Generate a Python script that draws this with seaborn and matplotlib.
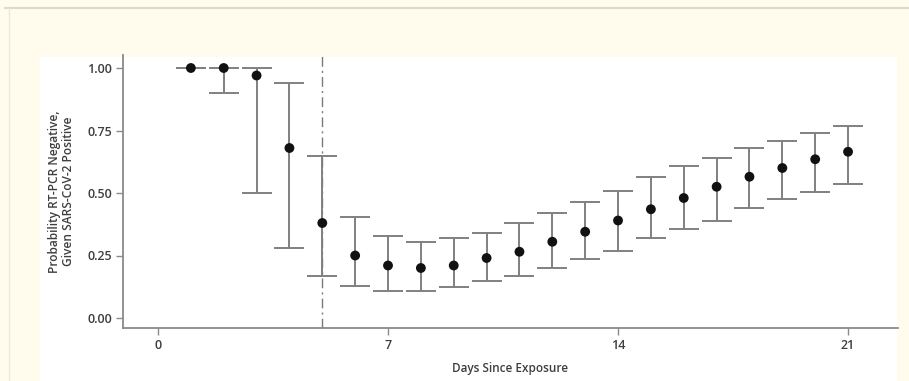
import matplotlib
matplotlib.use("Agg")
import matplotlib.pyplot as plt
import seaborn as sns
import pandas as pd
from matplotlib.patches import Rectangle
from matplotlib.lines import Line2D

days = list(range(1, 22))
prob = [1.00, 1.00, 0.97, 0.68, 0.38, 0.25, 0.21, 0.20, 0.21, 0.24, 0.265,
        0.305, 0.345, 0.39, 0.435, 0.48, 0.525, 0.565, 0.60, 0.635, 0.665]
lower = [1.00, 0.90, 0.50, 0.28, 0.17, 0.13, 0.11, 0.11, 0.125, 0.15, 0.17,
         0.20, 0.235, 0.27, 0.32, 0.355, 0.39, 0.44, 0.475, 0.505, 0.535]
upper = [1.00, 1.00, 1.00, 0.94, 0.65, 0.405, 0.33, 0.305, 0.32, 0.34, 0.38,
         0.42, 0.465, 0.51, 0.565, 0.61, 0.64, 0.68, 0.71, 0.74, 0.77]
x_ticks = [0, 7, 14, 21]
y_ticks = [0.00, 0.25, 0.50, 0.75, 1.00]
cutoff_day = 5

df = pd.DataFrame({"day": days, "prob": prob, "lower": lower, "upper": upper})

sns.set_theme(style="white")
plt.rcParams["font.family"] = ["Open Sans", "DejaVu Sans"]

cream = "#fffcee"
grey = "#8a8a8a"
text_col = "#3e3e3e"

fig = plt.figure(figsize=(9.09, 3.81), dpi=100, facecolor=cream)
W, H = 909, 381

# white panel and card border
fig.patches.append(Rectangle((40 / W, 0), (897 - 40) / W, (H - 57) / H,
                             transform=fig.transFigure, facecolor="white",
                             edgecolor="none", zorder=-5))
fig.lines.append(Line2D([5 / W, 1], [1 - 8 / H, 1 - 8 / H], transform=fig.transFigure,
                        color="#dcd9d0", lw=1.5, zorder=-4))
fig.lines.append(Line2D([9 / W, 9 / W], [0, 1 - 8 / H], transform=fig.transFigure,
                        color="#ece8dc", lw=1.0, zorder=-4))

ax = fig.add_axes([123 / W, (H - 328) / H, (898 - 123) / W, (328 - 55) / H])
ax.set_facecolor("none")

yerr = [df["prob"] - df["lower"], df["upper"] - df["prob"]]
ax.errorbar(df["day"], df["prob"], yerr=yerr, fmt="none", ecolor="#808080",
            elinewidth=1.4, capsize=10.8, capthick=1.4, zorder=2)
sns.scatterplot(data=df, x="day", y="prob", color="#111111", s=50,
                edgecolor="none", ax=ax, zorder=3)

ax.axvline(cutoff_day, color="#7a7a7a", lw=1.0, ls=(0, (7, 3, 1.5, 3)), zorder=1)

ax.set_xlim(-1.065, 22.52)
ax.set_ylim(-0.04, 1.052)
ax.set_xticks(x_ticks)
ax.set_yticks(y_ticks)
ax.set_yticklabels([f"{v:.2f}" for v in y_ticks])

for side in ["top", "right"]:
    ax.spines[side].set_visible(False)
for side in ["left", "bottom"]:
    ax.spines[side].set_color(grey)
    ax.spines[side].set_linewidth(1.3)

ax.tick_params(axis="both", direction="out", length=5, width=1.0, color=grey,
               labelsize=9, labelcolor=text_col, pad=3, left=True, bottom=True)
for lbl in ax.get_xticklabels() + ax.get_yticklabels():
    lbl.set_fontweight("semibold")

ax.set_xlabel("Days Since Exposure", fontsize=8.5, color=text_col,
              fontweight="semibold", labelpad=7)
ax.set_ylabel("Probability RT-PCR Negative,\nGiven SARS-CoV-2 Positive",
              fontsize=8.6, color=text_col, fontweight="semibold", labelpad=9,
              linespacing=1.1)

fig.savefig("out.png", dpi=100, facecolor=cream)
